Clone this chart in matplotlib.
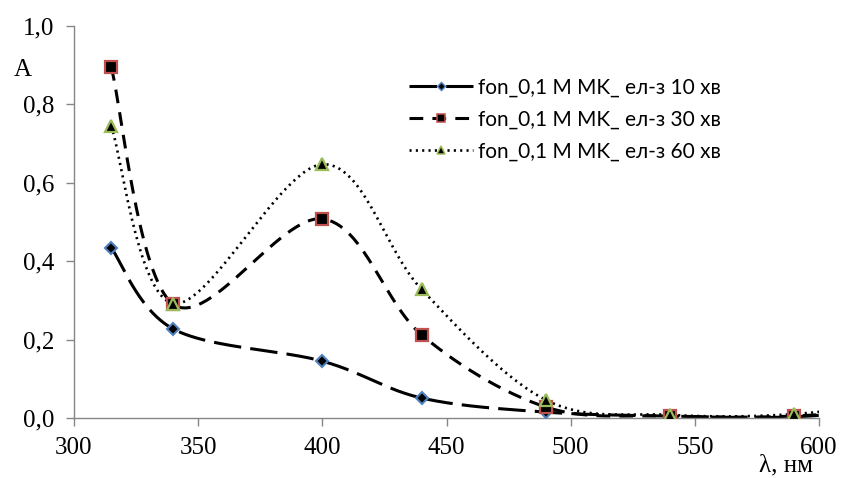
import numpy as np
import matplotlib
matplotlib.use("Agg")
import matplotlib.pyplot as plt
from matplotlib.lines import Line2D

wavelength = [315, 340, 400, 440, 490, 540, 590, 640]
a_10 = [0.434, 0.227, 0.145, 0.051, 0.015, 0.005, 0.003, 0.03]
a_30 = [0.895, 0.290, 0.508, 0.212, 0.028, 0.005, 0.005, 0.03]
a_60 = [0.745, 0.292, 0.647, 0.328, 0.046, 0.008, 0.010, 0.05]
labels = ["fon_0,1 M MK_ ел-з 10 хв", "fon_0,1 M MK_ ел-з 30 хв", "fon_0,1 M MK_ ел-з 60 хв"]
n_marked = 7
xticks = [300, 350, 400, 450, 500, 550, 600]
yticks = [0.0, 0.2, 0.4, 0.6, 0.8, 1.0]


def smooth(x, y, n=60):
    p = np.column_stack([x, y]).astype(float)
    pts = np.vstack([p[0], p, p[-1]])
    out = []
    t = np.linspace(0, 1, n)[:, None]
    for i in range(1, len(pts) - 2):
        p0, p3 = pts[i], pts[i + 1]
        c1 = p0 + (pts[i + 1] - pts[i - 1]) / 6.0
        c2 = p3 - (pts[i + 2] - pts[i]) / 6.0
        seg = ((1 - t) ** 3) * p0 + 3 * ((1 - t) ** 2) * t * c1 + 3 * (1 - t) * t ** 2 * c2 + t ** 3 * p3
        out.append(seg if i == 1 else seg[1:])
    s = np.vstack(out)
    return s[:, 0], s[:, 1]


fig = plt.figure(figsize=(8.41, 4.78), dpi=100)
ax = fig.add_axes([74 / 841, 1 - 418 / 478, 745 / 841, 392 / 478])

styles = [
    dict(dashes=(9, 3), lw=2.2, marker="D", ms=6, mfc="#000000", mec="#4F81BD", mew=1.5),
    dict(dashes=(4.5, 3), lw=2.2, marker="s", ms=8.5, mfc="#000000", mec="#C0504D", mew=1.6),
    dict(dashes=(0.8, 1.6), lw=1.9, marker="^", ms=8.5, mfc="#000000", mec="#9BBB59", mew=1.6),
]
series = [a_10, a_30, a_60]
handles = []
for vals, st, lab in zip(series, styles, labels):
    sx, sy = smooth(wavelength, vals)
    ax.plot(sx, sy, color="black", lw=st["lw"], dashes=st["dashes"], zorder=2)
    ax.plot(wavelength[:n_marked], vals[:n_marked], ls="none", marker=st["marker"], ms=st["ms"],
            mfc=st["mfc"], mec=st["mec"], mew=st["mew"], zorder=3)
    handles.append(Line2D([], [], color="black", lw=st["lw"], dashes=st["dashes"], marker=st["marker"],
                          ms=st["ms"] * 0.75, mfc=st["mfc"], mec=st["mec"], mew=st["mew"] * 0.7, label=lab))

ax.set_xlim(300, 600)
ax.set_ylim(0, 1.0)
ax.set_xticks(xticks)
ax.set_yticks(yticks)
ax.set_xticklabels([str(v) for v in xticks], family="Liberation Serif", fontsize=18)
ax.set_yticklabels([f"{v:.1f}".replace(".", ",") for v in yticks], family="Liberation Serif", fontsize=18)
for s in ["top", "right"]:
    ax.spines[s].set_visible(False)
for s in ["left", "bottom"]:
    ax.spines[s].set_color("#868686")
    ax.spines[s].set_linewidth(1.0)
ax.tick_params(axis="both", direction="out", length=6, width=1.0, color="#868686", colors="black", pad=8)

fig.text(14 / 841, 1 - 70 / 478, "A", family="Liberation Serif", fontsize=18, va="center", ha="left")
fig.text(786 / 841, 1 - 465 / 478, "λ, нм", family="Liberation Serif", fontsize=18, va="center", ha="center")

leg = ax.legend(handles=handles, loc="upper left", bbox_to_anchor=(0.438, 0.89), frameon=False,
                prop=dict(family="Lato", size=15), handlelength=3.1, handletextpad=0.25, labelspacing=0.58,
                borderaxespad=0)

fig.savefig("out.png", dpi=100)
